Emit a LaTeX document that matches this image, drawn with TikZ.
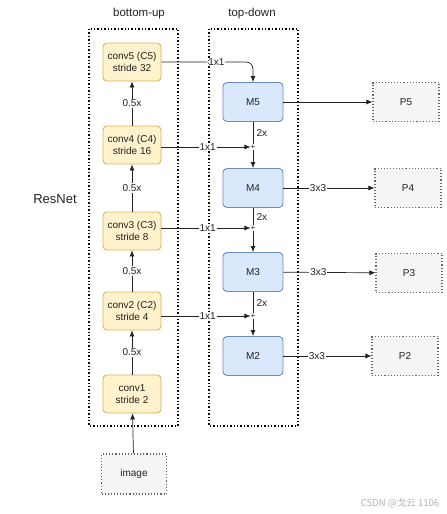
\documentclass[tikz,border=0pt]{standalone}
\usepackage{fontspec}
\setmainfont{Liberation Sans}
\newfontfamily\cjk{Noto Sans CJK SC}
\usetikzlibrary{arrows.meta}
\definecolor{convfill}{HTML}{FFF2CC}
\definecolor{convline}{HTML}{D6B656}
\definecolor{mfill}{HTML}{DAE8FC}
\definecolor{mline}{HTML}{6C8EBF}
\definecolor{pfill}{HTML}{F5F5F5}
\definecolor{pline}{HTML}{666666}
\definecolor{ink}{HTML}{222222}
\tikzset{
	conv/.style={draw=convline, fill=convfill, rounded corners=4pt, line width=0.9pt, minimum width=58pt, minimum height=38pt, align=center, text=ink},
	mbox/.style={draw=mline, fill=mfill, rounded corners=4pt, line width=0.9pt, minimum width=60pt, minimum height=39pt, text=ink},
	pbox/.style={draw=pline, fill=pfill, dotted, line width=1.1pt, minimum width=66pt, minimum height=39pt, text=ink},
	frame/.style={draw=black, dotted, line width=1.4pt},
	arr/.style={draw=ink, line width=0.7pt, -{Latex[length=6pt,width=5pt]}},
	lbl/.style={fill=white, inner sep=1pt, text=ink},
	plus/.style={inner sep=0pt, font=\fontsize{8}{8}\selectfont, text=ink},
	title/.style={text=ink, font=\fontsize{11.5}{13}\selectfont}
}
\begin{document}
\begin{tikzpicture}[x=1pt, y=-1pt, font=\fontsize{10}{12}\selectfont]
	\useasboundingbox (0,0) rectangle (447,514);
	\draw[frame] (89,29) rectangle (178,426);
	\draw[frame] (209,29) rectangle (298,426);
	\node[title] (bu) at (139,14) {bottom-up};
	\node[title] (td) at (252,14) {top-down};
	\node[text=ink, font=\fontsize{13}{15}\selectfont] (resnet) at (55,199) {ResNet};

	\node[conv] (c5) at (132,62) {conv5 (C5)\\stride 32};
	\node[conv] (c4) at (132,145) {conv4 (C4)\\stride 16};
	\node[conv] (c3) at (132,231) {conv3 (C3)\\stride 8};
	\node[conv] (c2) at (132,311) {conv2 (C2)\\stride 4};
	\node[conv] (c1) at (132,394) {conv1\\stride 2};
	\node[pbox, minimum width=65pt, minimum height=40pt] (img) at (134,474) {image};

	\node[mbox] (m5) at (253,102) {M5};
	\node[mbox] (m4) at (253,188) {M4};
	\node[mbox] (m3) at (253,272) {M3};
	\node[mbox] (m2) at (253,356) {M2};
	\node[plus] (s4) at (253,147) {+};
	\node[plus] (s3) at (253,228) {+};
	\node[plus] (s2) at (253,316) {+};

	\node[pbox] (p5) at (406,102) {P5};
	\node[pbox] (p4) at (408,188) {P4};
	\node[pbox] (p3) at (409,273) {P3};
	\node[pbox] (p2) at (405,356) {P2};

	\draw[arr] (img) -- (c1);
	\draw[arr] (c1) -- node[lbl] {0.5x} (c2);
	\draw[arr] (c2) -- node[lbl] {0.5x} (c3);
	\draw[arr] (c3) -- node[lbl] {0.5x} (c4);
	\draw[arr] (c4) -- node[lbl] {0.5x} (c5);

	\draw[arr, rounded corners=7pt] (c5.east) -- node[lbl, pos=0.6] {1x1} (c5.east -| m5.north) -- (m5.north);
	\draw[arr] (s4 -| c4.east) -- node[lbl, pos=0.52] {1x1} (s4.west);
	\draw[arr] (s3 -| c3.east) -- node[lbl, pos=0.52] {1x1} (s3.west);
	\draw[arr] (s2 -| c2.east) -- node[lbl, pos=0.52] {1x1} (s2.west);

	\draw[draw=ink, line width=0.7pt] (m5.south) -- node[right, text=ink] {2x} (s4.north);
	\draw[arr] (s4.south) -- (m4.north);
	\draw[draw=ink, line width=0.7pt] (m4.south) -- node[right, text=ink] {2x} (s3.north);
	\draw[arr] (s3.south) -- (m3.north);
	\draw[draw=ink, line width=0.7pt] (m3.south) -- node[right, text=ink] {2x} (s2.north);
	\draw[arr] (s2.south) -- (m2.north);

	\draw[arr] (m5) -- (p5);
	\draw[arr] (m4) -- node[lbl, pos=0.38] {3x3} (p4);
	\draw[arr] (m3) -- node[lbl, pos=0.38] {3x3} (p3);
	\draw[arr] (m2) -- node[lbl, pos=0.38] {3x3} (p2);

	\node[text=black!30, font=\cjk\fontsize{9.5}{10}\selectfont] (mark) at (400,503) {CSDN @戈云 1106};
\end{tikzpicture}
\end{document}
